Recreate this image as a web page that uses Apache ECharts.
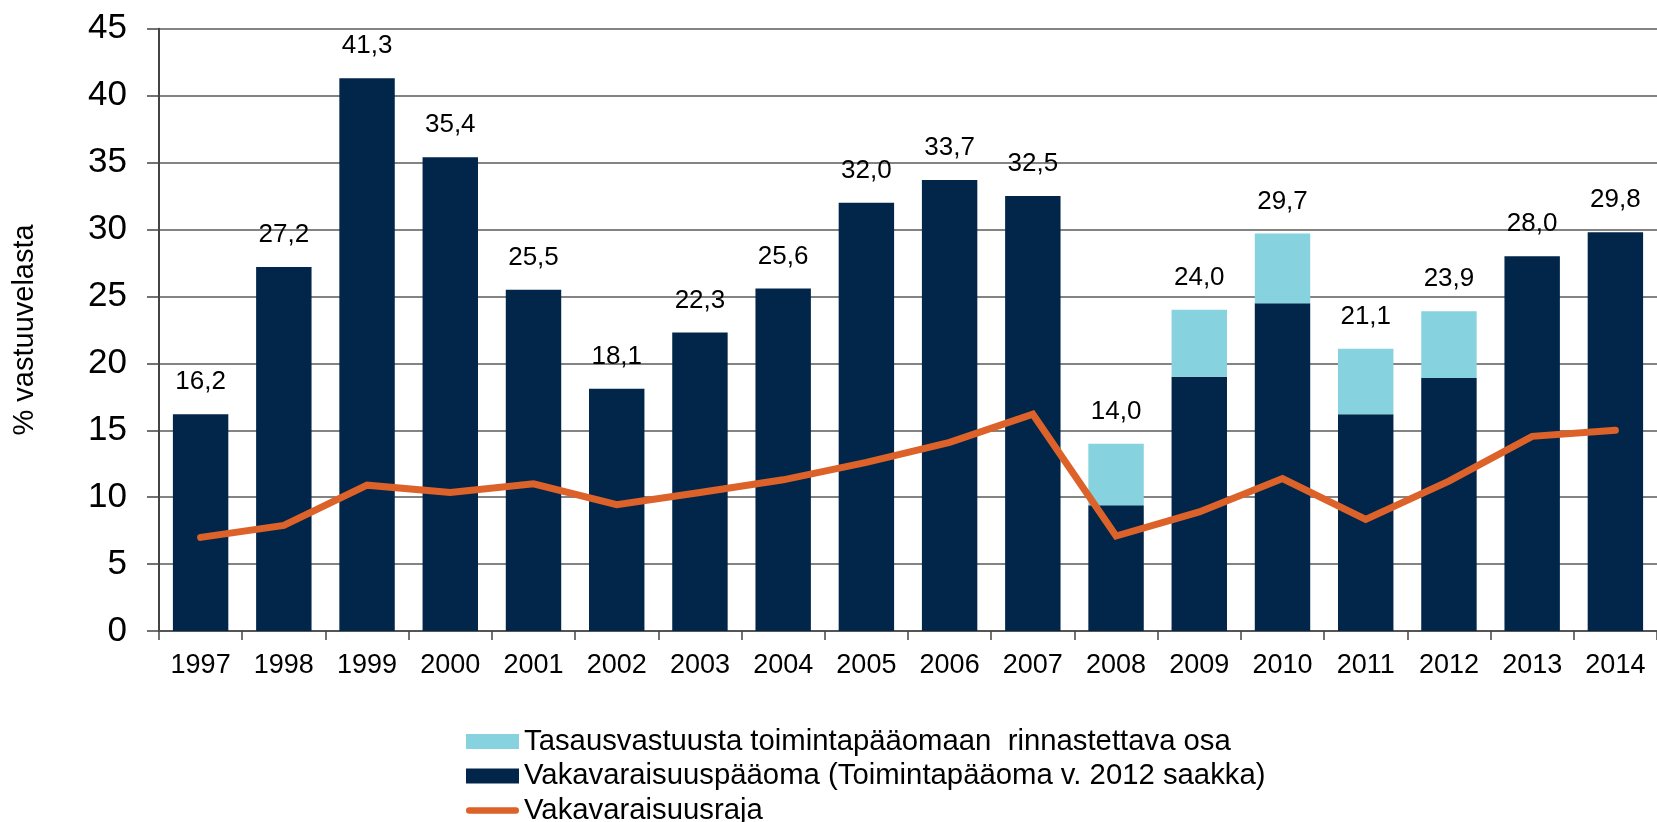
<!DOCTYPE html>
<html>
<head>
<meta charset="utf-8">
<script src="https://cdn.jsdelivr.net/npm/echarts@6/dist/echarts.min.js"></script>
<style>
html,body{margin:0;padding:0;background:#fff;}
#chart{width:1657px;height:822px;}
</style>
</head>
<body>
<div id="chart"></div>
<script>
var years = ['1997','1998','1999','2000','2001','2002','2003','2004','2005','2006','2007','2008','2009','2010','2011','2012','2013','2014'];
var vakavaraisuuspaaoma = [16.2, 27.2, 41.3, 35.4, 25.5, 18.1, 22.3, 25.6, 32.0, 33.7, 32.5, 9.4, 19.0, 24.5, 16.2, 18.9, 28.0, 29.8];
var tasausvastuuOsa = [null, null, null, null, null, null, null, null, null, null, null, 4.6, 5.0, 5.2, 4.9, 5.0, null, null];
var yhteensa = [16.2, 27.2, 41.3, 35.4, 25.5, 18.1, 22.3, 25.6, 32.0, 33.7, 32.5, 14.0, 24.0, 29.7, 21.1, 23.9, 28.0, 29.8];
var vakavaraisuusraja = [7.0, 7.9, 10.9, 10.35, 11.0, 9.45, 10.35, 11.3, 12.6, 14.1, 16.2, 7.1, 8.9, 11.4, 8.35, 11.2, 14.55, 15.0];
var yTicks = [0, 5, 10, 15, 20, 25, 30, 35, 40, 45];

var nameLight = 'Tasausvastuusta toimintapääomaan  rinnastettava osa';
var nameDark = 'Vakavaraisuuspääoma (Toimintapääoma v. 2012 saakka)';
var nameLine = 'Vakavaraisuusraja';

var FONT = '"Liberation Sans", Arial, sans-serif';
function fmt(v){ return v.toFixed(1).replace('.', ','); }

var chart = echarts.init(document.getElementById('chart'), null, {renderer:'canvas'});
chart.setOption({
  animation: false,
  backgroundColor: '#ffffff',
  textStyle: { fontFamily: FONT },
  grid: { left: 159, right: -5.6, top: 28.7, bottom: 190.9, containLabel: false },
  legend: {
    orient: 'vertical',
    left: 466,
    top: 726.5,
    height: 140,
    padding: 0,
    itemWidth: 53,
    itemHeight: 15,
    itemGap: 4.5,
    symbolKeepAspect: true,
    selectedMode: false,
    textStyle: { fontFamily: FONT, fontSize: 29.3, color: '#000', lineHeight: 30, padding: [0,0,0,0] },
    data: [
      { name: nameLight, icon: 'rect' },
      { name: nameDark, icon: 'rect' },
      { name: nameLine, icon: 'path://M3.5,0 L54.5,0 A3.5,3.5 0 0 1 54.5,7 L3.5,7 A3.5,3.5 0 0 1 3.5,0 Z', itemStyle: { color: '#DD622A' } }
    ]
  },
  xAxis: {
    type: 'category',
    data: years,
    axisLine: { lineStyle: { color: '#555', width: 2 } },
    axisTick: { show: true, length: 9, lineStyle: { color: '#444', width: 1.5 } },
    axisLabel: { fontFamily: FONT, fontSize: 27, color: '#000', margin: 21 }
  },
  yAxis: {
    type: 'value',
    min: yTicks[0],
    max: yTicks[yTicks.length - 1],
    interval: 5,
    name: '% vastuuvelasta',
    nameLocation: 'middle',
    nameGap: 120,
    nameRotate: 90,
    nameTextStyle: { fontFamily: FONT, fontSize: 29, color: '#000' },
    axisLine: { show: true, lineStyle: { color: '#444', width: 2 } },
    axisTick: { show: true, length: 12, lineStyle: { color: '#444', width: 1.5 } },
    axisLabel: { fontFamily: FONT, fontSize: 35, color: '#000', margin: 32 },
    splitLine: { show: true, lineStyle: { color: '#5a5a5a', width: 1.5 } }
  },
  series: [
    {
      name: nameDark,
      type: 'bar',
      stack: 'total',
      barCategoryGap: '33.4%',
      data: vakavaraisuuspaaoma,
      itemStyle: { color: '#02264A' },
      label: {
        show: true,
        position: 'top',
        distance: 19,
        fontFamily: FONT,
        fontSize: 26,
        color: '#000',
        formatter: function(p){ return tasausvastuuOsa[p.dataIndex] == null ? fmt(yhteensa[p.dataIndex]) : ''; }
      },
      z: 2
    },
    {
      name: nameLight,
      type: 'bar',
      stack: 'total',
      barCategoryGap: '33.4%',
      data: tasausvastuuOsa,
      itemStyle: { color: '#86D2DF' },
      label: {
        show: true,
        position: 'top',
        distance: 19,
        fontFamily: FONT,
        fontSize: 26,
        color: '#000',
        formatter: function(p){ return fmt(yhteensa[p.dataIndex]); }
      },
      z: 2
    },
    {
      name: nameLine,
      type: 'line',
      data: vakavaraisuusraja,
      symbol: 'none',
      lineStyle: { color: '#DD622A', width: 7, cap: 'round', join: 'miter' },
      itemStyle: { color: '#DD622A' },
      z: 5
    }
  ]
});
</script>
</body>
</html>
